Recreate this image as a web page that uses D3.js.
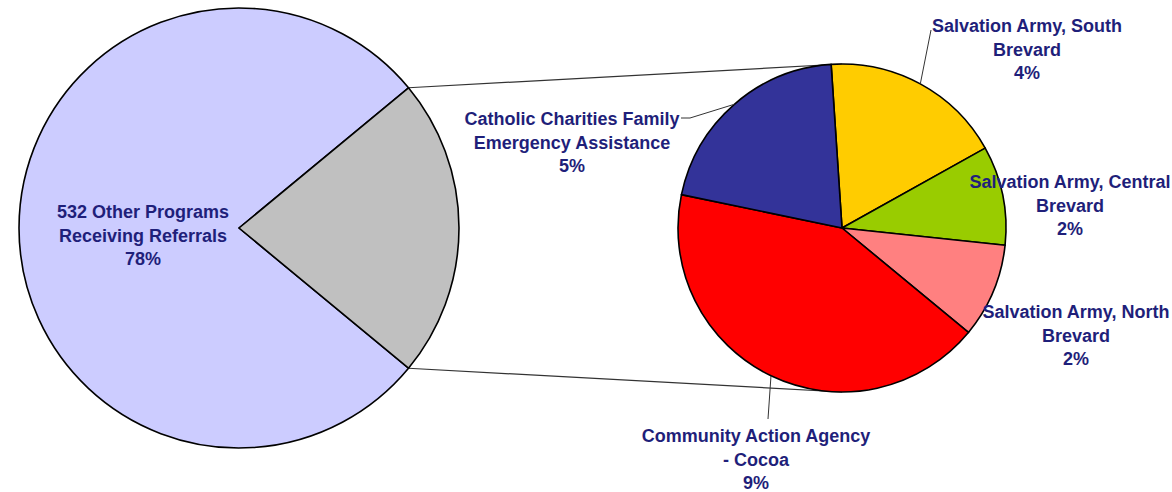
<!DOCTYPE html>
<html>
<head>
<meta charset="utf-8">
<script src="https://cdn.jsdelivr.net/npm/d3@7"></script>
<style>
  body { margin: 0; background: #fff; }
  .pieLabel { font-family: "Liberation Sans", Arial, sans-serif; font-weight: bold; font-size: 18px; fill: #1f1f7a; }
</style>
</head>
<body>
<div class="chart"></div>
<script>
// main pie: other programs vs the five programs broken out on the right
var mainCategories = ["532 Other Programs Receiving Referrals", "Top 5 Programs"];
var mainValues = [78, 22];

// second pie (percent of all referrals)
var detailCategories = [
  "Salvation Army, South Brevard",
  "Salvation Army, Central Brevard",
  "Salvation Army, North Brevard",
  "Community Action Agency - Cocoa",
  "Catholic Charities Family Emergency Assistance"
];
var detailValues = [3.95, 2.15, 2.05, 9.3, 4.55];

// label lines as they wrap in the chart
var mainLabelLines = [["532 Other Programs", "Receiving Referrals"]];
var detailLabelLines = [
  ["Salvation Army, South", "Brevard"],
  ["Salvation Army, Central", "Brevard"],
  ["Salvation Army, North", "Brevard"],
  ["Community Action Agency", "- Cocoa"],
  ["Catholic Charities Family", "Emergency Assistance"]
];

var svgWidth = 1172, svgHeight = 492;

var svg = d3.select(".chart")
  .append("svg")
  .attr("width", svgWidth)
  .attr("height", svgHeight);

var mainColors = ["#ccccff", "#c0c0c0"];
var detailColors = ["#ffcc00", "#99cc00", "#ff8080", "#ff0000", "#333399"];

var deg = Math.PI / 180;
var mainCx = 239, mainCy = 228, mainR = 220;
var detCx = 842, detCy = 228, detR = 164;

// gray wedge centred on 3 o'clock
var mainTotal = d3.sum(mainValues);
var mainStart = Math.PI / 2 + (mainValues[1] / mainTotal) * Math.PI;
var mainPie = d3.pie().sort(null)
  .startAngle(mainStart)
  .endAngle(mainStart + 2 * Math.PI);
var mainArcs = mainPie(mainValues);

var detStart = -3.8 * deg;
var detPie = d3.pie().sort(null)
  .startAngle(detStart)
  .endAngle(detStart + 2 * Math.PI);
var detArcs = detPie(detailValues);

var mainArc = d3.arc().innerRadius(0).outerRadius(mainR);
var detArc = d3.arc().innerRadius(0).outerRadius(detR);
var detEdge = d3.arc().innerRadius(detR).outerRadius(detR);

function polar(cx, cy, r, a) {
  return [cx + r * Math.sin(a), cy - r * Math.cos(a)];
}

// connector lines between the pies
var gray = mainArcs[1];
var connectors = [
  [polar(mainCx, mainCy, mainR, gray.startAngle), polar(detCx, detCy, detR, 0)],
  [polar(mainCx, mainCy, mainR, gray.endAngle), polar(detCx, detCy, detR, Math.PI)]
];
svg.selectAll(".connector")
  .data(connectors)
  .enter()
  .append("line")
  .attr("class", "connector")
  .attr("x1", d => d[0][0]).attr("y1", d => d[0][1])
  .attr("x2", d => d[1][0]).attr("y2", d => d[1][1])
  .attr("stroke", "#333")
  .attr("stroke-width", 1.2);

var mainGroup = svg.append("g")
  .attr("transform", `translate(${mainCx}, ${mainCy})`);
mainGroup.selectAll("path")
  .data(mainArcs)
  .enter()
  .append("path")
  .attr("d", mainArc)
  .attr("fill", (d, i) => mainColors[i])
  .attr("stroke", "#000")
  .attr("stroke-width", 1.6)
  .attr("stroke-linejoin", "round");

var detGroup = svg.append("g")
  .attr("transform", `translate(${detCx}, ${detCy})`);
detGroup.selectAll("path")
  .data(detArcs)
  .enter()
  .append("path")
  .attr("d", detArc)
  .attr("fill", (d, i) => detailColors[i])
  .attr("stroke", "#000")
  .attr("stroke-width", 1.6)
  .attr("stroke-linejoin", "round");

// label placement (x centre, first baseline) hand-tuned like the original
var detailLabelPos = [
  {x: 1027, y: 32},
  {x: 1070, y: 188},
  {x: 1076, y: 318},
  {x: 756, y: 442},
  {x: 572, y: 125}
];
var lineH = 23.5;

// leader lines for the labels sitting away from their slice
var leaderEnds = {
  0: [[931, 30]],
  3: [[768, 419]],
  4: [[690, 118], [681, 118]]
};
Object.keys(leaderEnds).forEach(function(k) {
  var c = detEdge.centroid(detArcs[k]);
  var pts = [[detCx + c[0], detCy + c[1]]].concat(leaderEnds[k]);
  svg.append("path")
    .attr("d", d3.line()(pts))
    .attr("fill", "none")
    .attr("stroke", "#333")
    .attr("stroke-width", 1);
});

function pct(v) { return Math.round(v) + "%"; }

detailLabelLines.forEach(function(lines, i) {
  var t = svg.append("text")
    .attr("class", "pieLabel")
    .attr("text-anchor", "middle");
  lines.concat([pct(detailValues[i])]).forEach(function(s, j) {
    t.append("tspan")
      .attr("x", detailLabelPos[i].x)
      .attr("y", detailLabelPos[i].y + j * lineH)
      .text(s);
  });
});

var mainText = svg.append("text")
  .attr("class", "pieLabel")
  .attr("text-anchor", "middle");
mainLabelLines[0].concat([pct(mainValues[0])]).forEach(function(s, j) {
  mainText.append("tspan")
    .attr("x", 143)
    .attr("y", 218 + j * lineH)
    .text(s);
});
</script>
</body>
</html>
